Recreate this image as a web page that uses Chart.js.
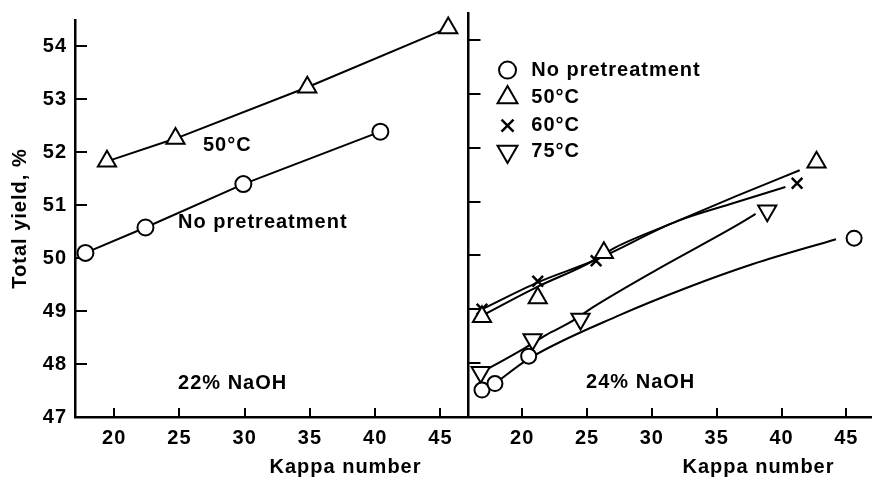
<!DOCTYPE html>
<html>
<head>
<meta charset="utf-8">
<script src="https://cdn.jsdelivr.net/npm/chart.js@4/dist/chart.umd.min.js"></script>
<style>
  body { margin: 0; background: #fff; }
  #wrap { position: relative; width: 872px; height: 477px; overflow: hidden; }
  canvas { position: absolute; top: 0; }
  #leftChart { left: 0; }
  #rightChart { left: 456px; }
</style>
</head>
<body>
<div id="wrap">
  <!-- canvases are 12px wider than the plot: Chart.js keeps room for the last tick label -->
  <canvas id="leftChart" width="479" height="477"></canvas>
  <canvas id="rightChart" width="428" height="477"></canvas>
</div>
<script>
// axis ticks
const kappaTicks = [20, 25, 30, 35, 40, 45];
const yieldTicks = [47, 48, 49, 50, 51, 52, 53, 54];

// 22% NaOH panel (left)
const leftKappaNone = [17.8, 22.4, 29.9, 40.4];
const leftYieldNone = [50.1, 50.58, 51.4, 52.39];
const leftKappa50 = [19.45, 24.7, 34.8, 45.6];
const leftYield50 = [51.83, 52.26, 53.23, 54.35];

// 24% NaOH panel (right) - measured points
const rightKappaNone = [16.9, 17.9, 20.5, 45.6];
const rightYieldNone = [47.5, 47.62, 48.13, 50.32];
const rightKappa50 = [16.9, 21.2, 26.3, 42.7];
const rightYield50 = [48.86, 49.21, 50.05, 51.73];
const rightKappa60 = [16.9, 21.2, 25.7, 41.2];
const rightYield60 = [49.0, 49.52, 49.9, 51.34];
const rightKappa75 = [16.8, 20.8, 24.5, 38.9];
const rightYield75 = [47.83, 48.44, 48.82, 50.83];

// 24% NaOH panel (right) - fitted curves
const curveKappaNone = [17.9, 20.5, 27.6, 32.7, 37.8, 44.2];
const curveYieldNone = [47.62, 48.08, 48.9, 49.4, 49.84, 50.3];
const curveKappa50 = [16.9, 21.2, 25.0, 27.2, 32.0, 36.5, 41.4];
const curveYield50 = [48.88, 49.42, 49.84, 50.15, 50.64, 51.1, 51.58];
const curveKappa60 = [16.9, 21.2, 25.7, 32.0, 36.0, 40.3];
const curveYield60 = [49.0, 49.5, 49.92, 50.64, 50.95, 51.27];
const curveKappa75 = [16.8, 20.2, 21.9, 23.65, 25.6, 30.2, 36.7, 38.0];
const curveYield75 = [47.82, 48.28, 48.53, 48.75, 49.06, 49.71, 50.58, 50.77];

const legendLabels = ["No pretreatment", "50\u00b0C", "60\u00b0C", "75\u00b0C"];

const FONT = { family: "'Liberation Sans', Arial, sans-serif", size: 20, weight: "bold" };
const FONT_CSS = "bold 20px 'Liberation Sans', Arial, sans-serif";

function pts(xs, ys) {
  return xs.map((x, i) => ({ x: x, y: ys[i] }));
}

const leftMarkers = {
  none: { pointStyle: "circle", pointRadius: 8, pointRotation: 0, pointBorderWidth: 2 },
  c50: { pointStyle: "triangle", pointRadius: 10.5, pointRotation: 0, pointBorderWidth: 2 },
};
const rightMarkers = {
  none: { pointStyle: "circle", pointRadius: 7.5, pointRotation: 0, pointBorderWidth: 2 },
  c50: { pointStyle: "triangle", pointRadius: 10.5, pointRotation: 0, pointBorderWidth: 2 },
  c60: { pointStyle: "crossRot", pointRadius: 7.5, pointRotation: 0, pointBorderWidth: 2.5 },
  c75: { pointStyle: "triangle", pointRadius: 10.5, pointRotation: 180, pointBorderWidth: 2 },
};

function markerSet(xs, ys, style, withLine) {
  return Object.assign({
    data: pts(xs, ys),
    showLine: withLine,
    borderColor: "#000",
    borderWidth: 2,
    pointBackgroundColor: "#fff",
    pointBorderColor: "#000",
    clip: false,
    order: 0,
  }, style);
}

function curveSet(xs, ys) {
  return {
    data: pts(xs, ys),
    showLine: true,
    borderColor: "#000",
    borderWidth: 2,
    pointRadius: 0,
    cubicInterpolationMode: "monotone",
    clip: false,
    order: 1,
  };
}

// tick marks point into the plot, like the original figure
const inwardTicks = {
  id: "inwardTicks",
  beforeDatasetsDraw(chart) {
    const { ctx, chartArea, scales } = chart;
    ctx.save();
    ctx.strokeStyle = "#000";
    ctx.lineWidth = 2;
    scales.x.ticks.forEach((t) => {
      const px = Math.round(scales.x.getPixelForValue(t.value));
      ctx.beginPath();
      ctx.moveTo(px, chartArea.bottom);
      ctx.lineTo(px, chartArea.bottom - 9);
      ctx.stroke();
    });
    scales.y.ticks.forEach((t) => {
      if (t.value <= scales.y.min) return;
      const py = Math.round(scales.y.getPixelForValue(t.value));
      ctx.beginPath();
      ctx.moveTo(chartArea.left, py);
      ctx.lineTo(chartArea.left + 12, py);
      ctx.stroke();
    });
    ctx.restore();
  },
};

const spacing = {
  id: "spacing",
  beforeUpdate(chart) { chart.ctx.letterSpacing = "1px"; },
  beforeDraw(chart) { chart.ctx.letterSpacing = "1px"; },
};

// free text and legend, placed in data units of the panel
const textLayer = {
  id: "textLayer",
  afterDatasetsDraw(chart, args, opts) {
    const { ctx, chartArea, scales } = chart;
    ctx.save();
    ctx.font = FONT_CSS;
    ctx.textBaseline = "middle";
    ctx.textAlign = "left";
    ctx.fillStyle = "#000";
    (opts.notes || []).forEach((n) => {
      ctx.fillText(n.text, scales.x.getPixelForValue(n.x), scales.y.getPixelForValue(n.y));
    });
    if (opts.legend) {
      const lg = opts.legend;
      lg.rows.forEach((yv, i) => {
        const ds = chart.data.datasets[i];
        const py = scales.y.getPixelForValue(yv);
        ctx.strokeStyle = "#000";
        ctx.fillStyle = "#fff";
        ctx.lineWidth = ds.pointBorderWidth;
        Chart.helpers.drawPoint(ctx, {
          pointStyle: ds.pointStyle,
          radius: ds.pointRadius + 1,
          rotation: ds.pointRotation,
          borderWidth: ds.pointBorderWidth,
        }, scales.x.getPixelForValue(lg.markerX), py);
        ctx.fillStyle = "#000";
        ctx.fillText(legendLabels[i], scales.x.getPixelForValue(lg.textX), py);
      });
    }
    ctx.textAlign = "right";
    ctx.fillText("Kappa number", chartArea.right - opts.kappaRight, chartArea.bottom + 50);
    ctx.restore();
  },
};

function makeScales(xMin, xMax, isLeft) {
  return {
    x: {
      type: "linear",
      min: xMin,
      max: xMax,
      afterBuildTicks: (s) => { s.ticks = kappaTicks.map((v) => ({ value: v })); },
      afterFit: (s) => { s.height = 60; },
      grid: { display: false, drawTicks: false },
      border: { color: "#000", width: 2.5 },
      ticks: { color: "#000", font: FONT, padding: 9, maxRotation: 0, autoSkip: false },
    },
    y: {
      type: "linear",
      min: 47,
      max: 54.5,
      afterBuildTicks: (s) => { s.ticks = yieldTicks.map((v) => ({ value: v })); },
      afterFit: (s) => { s.width = isLeft ? 75 : 11; },
      grid: { display: false, drawTicks: false },
      border: { color: "#000", width: 2.5 },
      ticks: { display: isLeft, color: "#000", font: FONT, padding: 8 },
      title: {
        display: isLeft,
        text: "Total yield, %",
        color: "#000",
        font: { family: FONT.family, size: 20, weight: "bold" },
        padding: { top: 8, bottom: 0 },
      },
    },
  };
}

const baseOptions = {
  responsive: false,
  animation: false,
  devicePixelRatio: 1,
  events: [],
};

new Chart(document.getElementById("leftChart"), {
  type: "line",
  data: {
    datasets: [
      markerSet(leftKappaNone, leftYieldNone, leftMarkers.none, true),
      markerSet(leftKappa50, leftYield50, leftMarkers.c50, true),
    ],
  },
  options: Object.assign({}, baseOptions, {
    layout: { padding: { top: 15, right: 0, bottom: 0, left: 0 } },
    scales: makeScales(17, 47, true),
    plugins: {
      legend: { display: false },
      tooltip: { enabled: false },
      textLayer: {
        kappaRight: 45,
        notes: [
          { text: "50\u00b0C", x: 26.8, y: 52.13 },
          { text: "No pretreatment", x: 24.9, y: 50.68 },
          { text: "22% NaOH", x: 24.9, y: 47.63 },
        ],
      },
    },
  }),
  plugins: [spacing, inwardTicks, textLayer],
});

new Chart(document.getElementById("rightChart"), {
  type: "line",
  data: {
    datasets: [
      markerSet(rightKappaNone, rightYieldNone, rightMarkers.none, false),
      markerSet(rightKappa50, rightYield50, rightMarkers.c50, false),
      markerSet(rightKappa60, rightYield60, rightMarkers.c60, false),
      markerSet(rightKappa75, rightYield75, rightMarkers.c75, false),
      curveSet(curveKappaNone, curveYieldNone),
      curveSet(curveKappa50, curveYield50),
      curveSet(curveKappa60, curveYield60),
      curveSet(curveKappa75, curveYield75),
    ],
  },
  options: Object.assign({}, baseOptions, {
    layout: { padding: { top: 13, right: 0, bottom: 0, left: 0 } },
    scales: makeScales(15.86, 46.94, false),
    plugins: {
      legend: { display: false },
      tooltip: { enabled: false },
      textLayer: {
        kappaRight: 37,
        notes: [{ text: "24% NaOH", x: 24.93, y: 47.65 }],
        legend: { markerX: 18.87, textX: 20.7, rows: [53.44, 52.93, 52.41, 51.93] },
      },
    },
  }),
  plugins: [spacing, inwardTicks, textLayer],
});
</script>
</body>
</html>
